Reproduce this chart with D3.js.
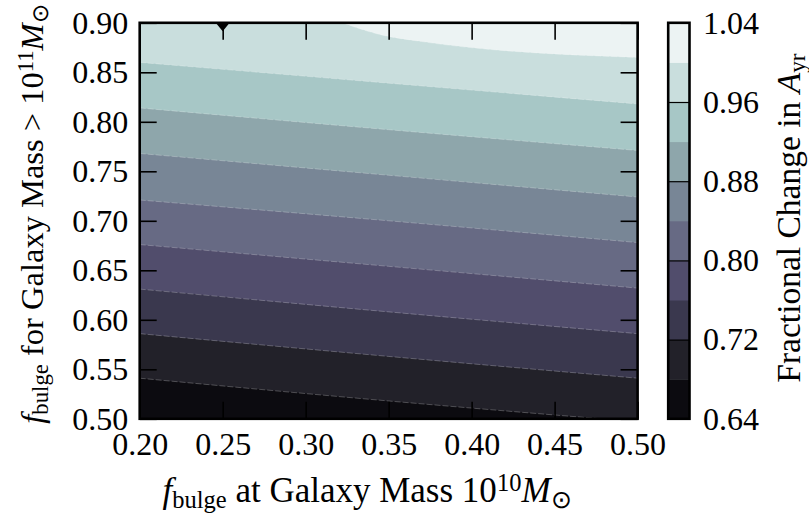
<!DOCTYPE html>
<html><head><meta charset="utf-8">
<script src="https://cdn.jsdelivr.net/npm/d3@7"></script>
<style>
body{margin:0;background:#fff}
svg{display:block}
text{font-family:"Liberation Serif","Times New Roman",serif;fill:#000}
</style>
</head><body>
<svg id="chart" width="809" height="514"></svg>
<script>
// ---- data ----
const xTicks = [0.20, 0.25, 0.30, 0.35, 0.40, 0.45, 0.50];
const yTicks = [0.50, 0.55, 0.60, 0.65, 0.70, 0.75, 0.80, 0.85, 0.90];
const levels = [0.64, 0.68, 0.72, 0.76, 0.80, 0.84, 0.88, 0.92, 0.96, 1.00, 1.04];
const cbarTicks = [0.64, 0.72, 0.80, 0.88, 0.96, 1.04];
const bandColors = ["#0c0b10", "#222129", "#3a384e", "#514d6c", "#676a84",
                    "#788696", "#8ea6ab", "#a7c7c6", "#c9dedd", "#ecf3f3"];
// contour boundary lines: y value at given x positions
const contourX = [0.20, 0.35, 0.50];
const contour068 = [0.541, 0.518, 0.497];
const contour072 = [0.586, 0.563, 0.541];
const contour076 = [0.631, 0.608, 0.586];
const contour080 = [0.676, 0.654, 0.632];
const contour084 = [0.721, 0.700, 0.678];
const contour088 = [0.768, 0.746, 0.724];
const contour092 = [0.814, 0.792, 0.771];
const contour096 = [0.860, 0.839, 0.818];
const contour100X = [0.322, 0.345, 0.370, 0.50];
const contour100Y = [0.900, 0.888, 0.881, 0.865];
const markerX = [0.25];
const markerY = [0.90];

const boundaries = [
  {level: 0.68, xs: contourX, ys: contour068},
  {level: 0.72, xs: contourX, ys: contour072},
  {level: 0.76, xs: contourX, ys: contour076},
  {level: 0.80, xs: contourX, ys: contour080},
  {level: 0.84, xs: contourX, ys: contour084},
  {level: 0.88, xs: contourX, ys: contour088},
  {level: 0.92, xs: contourX, ys: contour092},
  {level: 0.96, xs: contourX, ys: contour096},
  {level: 1.00, xs: contour100X, ys: contour100Y}
];

// ---- layout ----
const svg = d3.select("#chart");
const x = d3.scaleLinear().domain([0.20, 0.50]).range([139.7, 637.6]);
const y = d3.scaleLinear().domain([0.50, 0.90]).range([418.8, 22.8]);
const cy = d3.scaleLinear().domain([0.64, 1.04]).range([418.8, 22.8]);
const cbX0 = 668.2, cbX1 = 689.5;
const colorOf = d3.scaleThreshold().domain(levels.slice(1, -1)).range(bandColors);

svg.append("defs").append("clipPath").attr("id", "plotclip")
  .append("rect").attr("x", x(0.20)).attr("y", y(0.90))
  .attr("width", x(0.50) - x(0.20)).attr("height", y(0.50) - y(0.90));

const plot = svg.append("g").attr("clip-path", "url(#plotclip)");
plot.append("rect").attr("x", x(0.20)).attr("y", y(0.90))
  .attr("width", x(0.50) - x(0.20)).attr("height", y(0.50) - y(0.90))
  .attr("fill", colorOf(1.02));

const curveLine = d3.line().x(d => x(d[0])).y(d => y(d[1])).curve(d3.curveMonotoneX);
const straight = d3.line().x(d => x(d[0])).y(d => y(d[1]));
boundaries.slice().reverse().forEach(b => {
  const pts = b.xs.map((v, i) => [v, b.ys[i]]);
  const corners = [[0.50, 0.50], [0.20, 0.50], [0.20, 0.90]];
  const d = curveLine(pts) + corners.map(c => `L${x(c[0])},${y(c[1])}`).join("") + "Z";
  plot.append("path").attr("d", d).attr("fill", colorOf(b.level - 0.02));
});
boundaries.forEach(b => {
  const pts = b.xs.map((v, i) => [v, b.ys[i]]);
  plot.append("path").attr("d", curveLine(pts))
    .attr("fill", "none").attr("stroke", "#ffffff")
    .attr("stroke-opacity", 0.3).attr("stroke-width", 0.8)
    .attr("stroke-dasharray", "6,2");
});
plot.selectAll("path.marker").data(markerX.map((v, i) => [v, markerY[i]]))
  .enter().append("path").attr("class", "marker")
  .attr("d", d => `M${x(d[0]) - 7},${y(d[1])}L${x(d[0]) + 7},${y(d[1])}L${x(d[0])},${y(d[1]) + 8.5}Z`)
  .attr("fill", "#000");

// ---- axes ----
const fs = 32;
function styleAxis(g, labels) {
  g.attr("font-family", null).attr("font-size", null);
  g.select(".domain").remove();
  g.selectAll(".tick line").attr("stroke", "#000").attr("stroke-width", 1.6);
  if (!labels) g.selectAll(".tick text").remove();
  else g.selectAll(".tick text").style("font-size", fs + "px").attr("fill", "#000");
}
const fmt = d3.format(".2f");
svg.append("g").attr("transform", `translate(0,${y(0.50)})`)
  .call(d3.axisBottom(x).tickValues(xTicks).tickFormat(fmt).tickSizeInner(-17).tickSizeOuter(0).tickPadding(13.5))
  .call(g => styleAxis(g, true));
svg.append("g").attr("transform", `translate(0,${y(0.90)})`)
  .call(d3.axisTop(x).tickValues(xTicks).tickSizeInner(-17).tickSizeOuter(0))
  .call(g => styleAxis(g, false));
svg.append("g").attr("transform", `translate(${x(0.20)},0)`)
  .call(d3.axisLeft(y).tickValues(yTicks).tickFormat(fmt).tickSizeInner(-17).tickSizeOuter(0).tickPadding(11.5))
  .call(g => styleAxis(g, true));
svg.append("g").attr("transform", `translate(${x(0.50)},0)`)
  .call(d3.axisRight(y).tickValues(yTicks).tickSizeInner(-17).tickSizeOuter(0))
  .call(g => styleAxis(g, false));

svg.append("rect").attr("x", x(0.20)).attr("y", y(0.90))
  .attr("width", x(0.50) - x(0.20)).attr("height", y(0.50) - y(0.90))
  .attr("fill", "none").attr("stroke", "#000").attr("stroke-width", 2.6);

// ---- colorbar ----
const cb = svg.append("g");
cb.selectAll("rect.band").data(d3.range(bandColors.length)).enter().append("rect")
  .attr("class", "band")
  .attr("x", cbX0).attr("width", cbX1 - cbX0)
  .attr("y", i => cy(levels[i + 1])).attr("height", i => cy(levels[i]) - cy(levels[i + 1]) + 0.5)
  .attr("fill", i => bandColors[i]);
cb.append("g").attr("transform", `translate(${cbX1},0)`)
  .call(d3.axisRight(cy).tickValues(cbarTicks).tickFormat(fmt).tickSizeInner(-(cbX1 - cbX0)).tickSizeOuter(0).tickPadding(13.5))
  .call(g => { styleAxis(g, true); g.selectAll(".tick line").attr("stroke-width", 1.2); });
cb.append("rect").attr("x", cbX0).attr("y", cy(1.04))
  .attr("width", cbX1 - cbX0).attr("height", cy(0.64) - cy(1.04))
  .attr("fill", "none").attr("stroke", "#000").attr("stroke-width", 2.6);

// ---- labels ----
function mathLabel(sel, size, parts) {
  parts.forEach(p => {
    const t = sel.append("tspan").text(p.t);
    if (p.i) t.attr("font-style", "italic");
    if (p.sub) t.attr("font-size", size * 0.7).attr("baseline-shift", "-22%");
    if (p.sup) t.attr("font-size", size * 0.7).attr("baseline-shift", "45%");
  });
}
const xfs = 35;
const xl = svg.append("text").attr("x", 367).attr("y", 502)
  .attr("text-anchor", "middle").attr("font-size", xfs);
mathLabel(xl, xfs, [{t: "f", i: 1}, {t: "bulge", sub: 1}, {t: " at Galaxy Mass 10"},
  {t: "10", sup: 1}, {t: "M", i: 1}, {t: "\u2299", sub: 1}]);

const yfs = 32.5;
const yl = svg.append("text").attr("transform", "translate(43,214) rotate(-90)")
  .attr("text-anchor", "middle").attr("font-size", yfs);
mathLabel(yl, yfs, [{t: "f", i: 1}, {t: "bulge", sub: 1}, {t: " for Galaxy Mass > 10"},
  {t: "11", sup: 1}, {t: "M", i: 1}, {t: "\u2299", sub: 1}]);

const cfs = 33.5;
const cl = svg.append("text").attr("transform", "translate(800,218) rotate(-90)")
  .attr("text-anchor", "middle").attr("font-size", cfs);
mathLabel(cl, cfs, [{t: "Fractional Change in "}, {t: "A", i: 1}, {t: "yr", sub: 1}]);
</script>
</body></html>
